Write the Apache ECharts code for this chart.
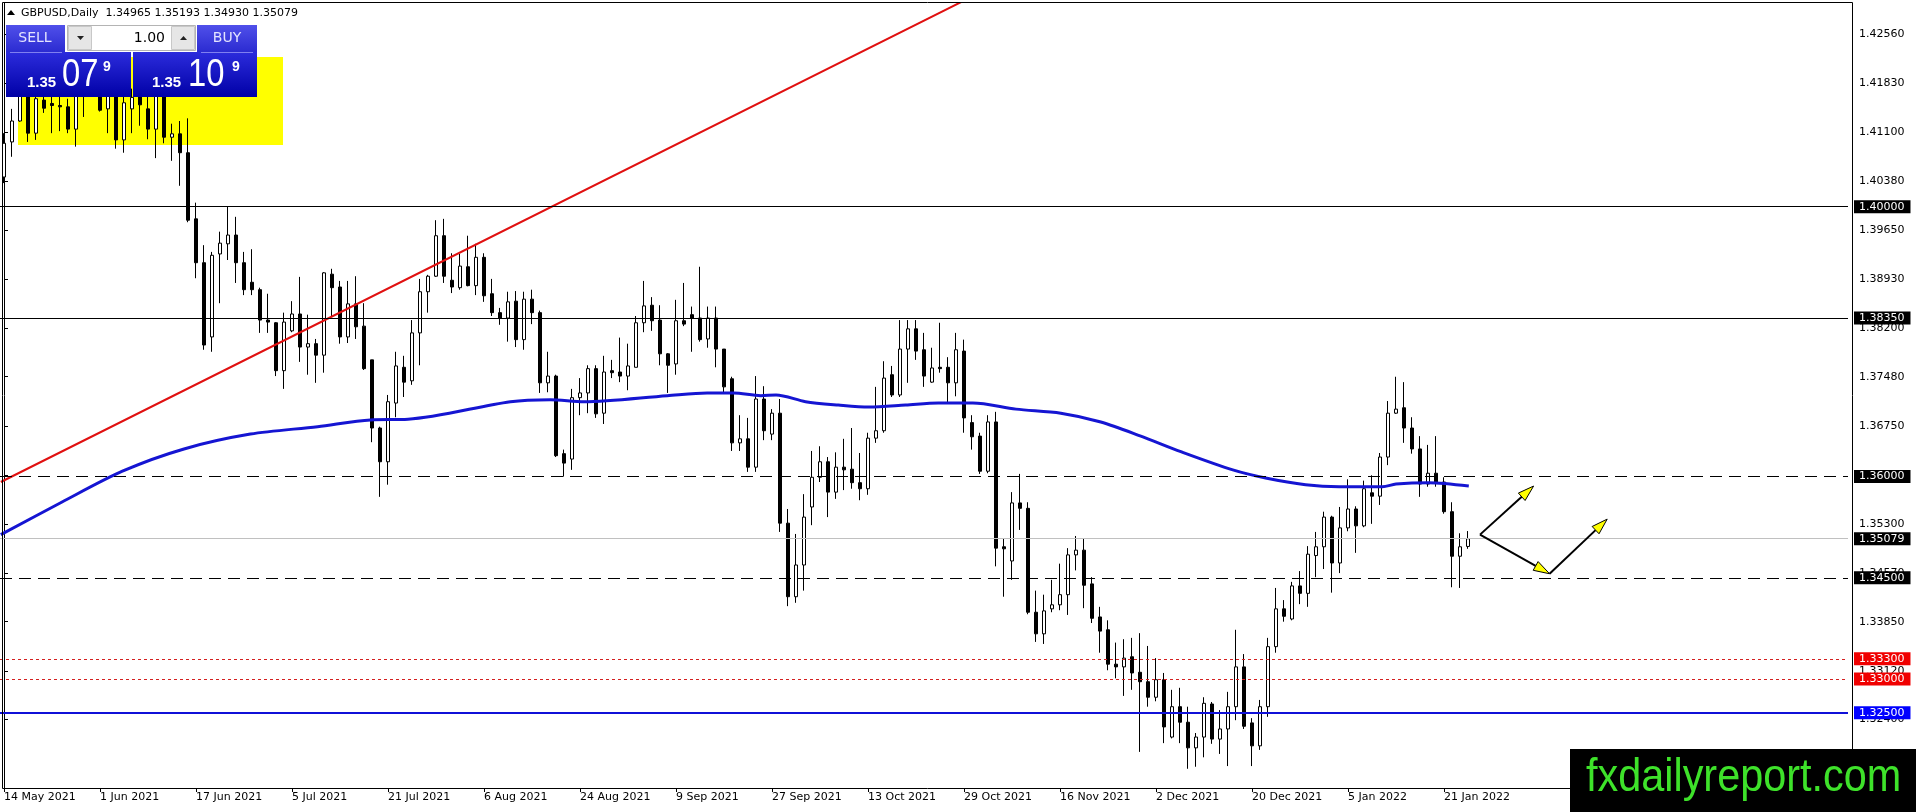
<!DOCTYPE html>
<html>
<head>
<meta charset="utf-8">
<script src="https://cdn.jsdelivr.net/npm/echarts@6.0.0/dist/echarts.min.js"></script>
<style>
  html, body { margin: 0; padding: 0; background: #fff; }
  #chart { width: 1916px; height: 812px; }
</style>
</head>
<body>
<div id="chart"></div>
<script>
// GBPUSD daily, 14 May 2021 .. 26 Jan 2022 (one slot per trading day)
const FONT = '"DejaVu Sans", sans-serif';
const ARIAL = '"Liberation Sans", Arial, sans-serif';
const BAR_COUNT = 231; // visible slots, incl. empty space on the right

const dateLabels = ['14 May 2021', '1 Jun 2021', '17 Jun 2021', '5 Jul 2021', '21 Jul 2021', '6 Aug 2021',
  '24 Aug 2021', '9 Sep 2021', '27 Sep 2021', '13 Oct 2021', '29 Oct 2021', '16 Nov 2021',
  '2 Dec 2021', '20 Dec 2021', '5 Jan 2022', '21 Jan 2022'];

const yTicks = [1.4256, 1.4183, 1.4110, 1.4038, 1.3965, 1.3893, 1.3820, 1.3748,
  1.3675, 1.3602, 1.3530, 1.3457, 1.3385, 1.3312, 1.3240];

const opens = [
  1.4044,1.4096,1.4127,1.4170,1.4109,1.4158,1.4153,1.4150,1.4148,1.4115,1.4165,1.4180,
  1.4195,1.4145,1.4168,1.4099,1.4145,1.4170,1.4145,1.4115,1.4168,1.4103,1.4108,1.4080,
  1.3982,1.3917,1.3807,1.3930,1.3945,1.3958,1.3917,1.3888,1.3877,1.3832,1.3828,1.3757,
  1.3816,1.3841,1.3792,1.3797,1.3780,1.3900,1.3881,1.3807,1.3856,1.3823,1.3773,1.3672,
  1.3622,1.3709,1.3762,1.3742,1.3813,1.3874,1.3897,1.3957,1.3891,1.3880,1.3911,1.3883,
  1.3925,1.3871,1.3843,1.3835,1.3860,1.3803,1.3863,1.3843,1.3739,1.3749,1.3634,1.3626,
  1.3717,1.3724,1.3760,1.3694,1.3757,1.3755,1.3749,1.3762,1.3828,1.3854,1.3832,1.3782,
  1.3767,1.3831,1.3840,1.3835,1.3804,1.3835,1.3789,1.3745,1.3650,1.3656,1.3614,1.3715,
  1.3663,1.3694,1.3531,1.3422,1.3469,1.3555,1.3599,1.3622,1.3577,1.3614,1.3611,1.3591,
  1.3582,1.3657,1.3668,1.3751,1.3721,1.3789,1.3819,1.3788,1.3740,1.3762,1.3762,1.3739,
  1.3786,1.3680,1.3660,1.3608,1.3681,1.3496,1.3475,1.3561,1.3553,1.3399,1.3367,1.3404,
  1.3410,1.3425,1.3484,1.3491,1.3441,1.3392,1.3373,1.3322,1.3318,1.3333,1.3310,1.3296,
  1.3273,1.3299,1.3214,1.3259,1.3236,1.3198,1.3214,1.3263,1.3211,1.3226,1.3259,1.3318,
  1.3235,1.3201,1.3259,1.3348,1.3404,1.3389,1.3438,1.3427,1.3483,1.3496,1.3540,1.3472,
  1.3524,1.3552,1.3527,1.3576,1.3571,1.3629,1.3694,1.3702,1.3672,1.3641,1.3589,1.3605,
  1.3592,1.3548,1.3482,1.34965
];
const highs = [
  1.4109,1.4145,1.4180,1.4185,1.4175,1.4170,1.4168,1.4165,1.4160,1.4180,1.4190,1.4215,
  1.4205,1.4185,1.4180,1.4170,1.4175,1.4185,1.4163,1.4180,1.4182,1.4123,1.4127,1.4131,
  1.4006,1.3943,1.3933,1.3963,1.4000,1.3985,1.3933,1.3937,1.3880,1.3871,1.3829,1.3843,
  1.3860,1.3896,1.3840,1.3804,1.3903,1.3908,1.3890,1.3890,1.3897,1.3857,1.3773,1.3674,
  1.3721,1.3785,1.3779,1.3832,1.3893,1.3899,1.3980,1.3982,1.3931,1.3930,1.3957,1.3945,
  1.3931,1.3893,1.3850,1.3874,1.3875,1.3874,1.3877,1.3846,1.3785,1.3751,1.3640,1.3730,
  1.3746,1.3765,1.3765,1.3779,1.3773,1.3806,1.3797,1.3838,1.3890,1.3866,1.3854,1.3783,
  1.3862,1.3887,1.3852,1.3911,1.3852,1.3852,1.3789,1.3748,1.3691,1.3687,1.3749,1.3734,
  1.3700,1.3715,1.3552,1.3515,1.3574,1.3638,1.3645,1.3629,1.3636,1.3656,1.3672,1.3635,
  1.3665,1.3733,1.3771,1.3764,1.3832,1.3832,1.3832,1.3813,1.3791,1.3828,1.3777,1.3813,
  1.3803,1.3691,1.3665,1.3691,1.3696,1.3509,1.3577,1.3604,1.3562,1.3431,1.3425,1.3447,
  1.3471,1.3494,1.3512,1.3508,1.3451,1.3407,1.3387,1.3354,1.3359,1.3361,1.3368,1.3349,
  1.3331,1.3309,1.3284,1.3287,1.3259,1.3220,1.3273,1.3266,1.3254,1.3281,1.3373,1.3337,
  1.3242,1.3269,1.3361,1.3435,1.3417,1.3444,1.3460,1.3497,1.3518,1.3548,1.3542,1.3555,
  1.3596,1.3556,1.3594,1.3602,1.3635,1.3712,1.3748,1.3740,1.3688,1.3660,1.3647,1.3660,
  1.3599,1.3562,1.3516,1.35193
];
const lows = [
  1.4035,1.4074,1.4126,1.4096,1.4099,1.4139,1.4109,1.4112,1.4109,1.4089,1.4133,1.4170,
  1.4141,1.4109,1.4086,1.4080,1.4109,1.4120,1.4100,1.4072,1.4094,1.4068,1.4031,1.3977,
  1.3894,1.3788,1.3785,1.3857,1.3921,1.3887,1.3869,1.3869,1.3813,1.3813,1.3749,1.3730,
  1.3814,1.3770,1.3751,1.3739,1.3754,1.3837,1.3797,1.3798,1.3804,1.3758,1.3651,1.3570,
  1.3588,1.3688,1.3718,1.3736,1.3765,1.3843,1.3896,1.3887,1.3872,1.3877,1.3882,1.3869,
  1.3859,1.3838,1.3825,1.3800,1.3792,1.3788,1.3826,1.3724,1.3725,1.3629,1.3600,1.3610,
  1.3691,1.3694,1.3687,1.3678,1.3746,1.3740,1.3728,1.3762,1.3814,1.3816,1.3765,1.3724,
  1.3751,1.3823,1.3785,1.3800,1.3791,1.3762,1.3725,1.3638,1.3638,1.3607,1.3607,1.3654,
  1.3654,1.3518,1.3408,1.3413,1.3431,1.3528,1.3592,1.3540,1.3567,1.3580,1.3582,1.3565,
  1.3573,1.3650,1.3665,1.3718,1.3718,1.3739,1.3773,1.3733,1.3739,1.3754,1.3709,1.3719,
  1.3665,1.3640,1.3604,1.3605,1.3467,1.3422,1.3447,1.3521,1.3396,1.3355,1.3352,1.3399,
  1.3402,1.3395,1.3461,1.3405,1.3383,1.3339,1.3313,1.3301,1.3275,1.3284,1.3192,1.3259,
  1.3267,1.3205,1.3212,1.3205,1.3167,1.3170,1.3184,1.3204,1.3189,1.3171,1.3239,1.3226,
  1.3171,1.3195,1.3244,1.3339,1.3385,1.3387,1.3411,1.3407,1.3451,1.3463,1.3428,1.3457,
  1.3519,1.3487,1.3525,1.3530,1.3558,1.3617,1.3693,1.3650,1.3634,1.3570,1.3585,1.3585,
  1.3545,1.3436,1.3435,1.34930
];
const closes = [
  1.4094,1.4127,1.4165,1.4109,1.4160,1.4146,1.4150,1.4148,1.4115,1.4165,1.4178,1.4200,
  1.4143,1.4170,1.4099,1.4154,1.4162,1.4151,1.4115,1.4168,1.4103,1.4108,1.4080,1.3980,
  1.3917,1.3795,1.3928,1.3946,1.3958,1.3917,1.3877,1.3877,1.3832,1.3829,1.3757,1.3829,
  1.3841,1.3792,1.3797,1.3780,1.3902,1.3880,1.3807,1.3856,1.3822,1.3760,1.3672,1.3622,
  1.3711,1.3764,1.3740,1.3813,1.3874,1.3897,1.3957,1.3897,1.3881,1.3912,1.3883,1.3925,
  1.3868,1.3843,1.3835,1.3859,1.3803,1.3863,1.3843,1.3739,1.3749,1.3631,1.3620,1.3717,
  1.3724,1.3760,1.3693,1.3755,1.3754,1.3749,1.3764,1.3828,1.3853,1.3831,1.3782,1.3765,
  1.3831,1.3826,1.3835,1.3803,1.3835,1.3789,1.3733,1.3650,1.3656,1.3614,1.3715,1.3668,
  1.3694,1.3531,1.3422,1.3469,1.3540,1.3599,1.3622,1.3577,1.3614,1.3610,1.3591,1.3582,
  1.3657,1.3668,1.3746,1.3721,1.3789,1.3819,1.3786,1.3749,1.3761,1.3760,1.3739,1.3788,
  1.3687,1.3659,1.3608,1.3681,1.3494,1.3493,1.3561,1.3553,1.3399,1.3367,1.3401,1.3410,
  1.3425,1.3484,1.3491,1.3439,1.3390,1.3371,1.3322,1.3318,1.3331,1.3309,1.3296,1.3273,
  1.3299,1.3229,1.3259,1.3236,1.3198,1.3214,1.3264,1.3211,1.3226,1.3259,1.3318,1.3230,
  1.3201,1.3259,1.3348,1.3404,1.3393,1.3438,1.3427,1.3485,1.3496,1.3540,1.3472,1.3524,
  1.3552,1.3527,1.3582,1.3571,1.3629,1.3694,1.3700,1.3672,1.3641,1.3589,1.3605,1.3592,
  1.3548,1.3482,1.3496,1.35079
];

// moving average as [bar, price]
const maPoints = [
  [-0.4,1.3514],[7.2,1.3562],[14.8,1.3608],[22.5,1.3641],[30.8,1.3663],[39.2,1.3674],
  [45.8,1.3684],[50.5,1.3685],[63.3,1.3711],[68.3,1.3714],[72.5,1.3711],[82.9,1.3720],
  [87.9,1.3724],[91.2,1.3724],[94.6,1.3720],[96.5,1.3721],[100.2,1.3711],[104.3,1.3706],
  [108.1,1.3703],[112.7,1.3706],[116.8,1.3709],[121.1,1.3709],[126.5,1.3700],[132.1,1.3694],
  [137.1,1.3681],[142.1,1.3660],[147.1,1.3637],[153.6,1.3610],[157.7,1.3598],[162.7,1.3588],
  [166.9,1.3585],[172.3,1.3585],[174.0,1.3589],[178.1,1.3591],[183.1,1.3586]
];

// red trend line
const trendLine = [[-0.4, 1.3592], [120.1, 1.4306]];

// horizontal levels
const levels = [1.40000, 1.38350, 1.36000, 1.35079, 1.34500, 1.33300, 1.33000, 1.32500];

// projection arrows [from, to] in [bar, price]
const arrowPaths = [
  [[184.5, 1.3514], [191.2, 1.3586]],
  [[184.5, 1.3514], [193.2, 1.3456]],
  [[193.2, 1.3456], [200.4, 1.3537]]
];

const categories = [];
for (let i = 0; i < BAR_COUNT; i++) categories.push(String(i));

const candleData = opens.map((o, i) => [o, closes[i], lows[i], highs[i]]);

const levelStyle = {
  1.40000: { line: { color: '#000', width: 1, type: 'solid' }, bg: '#000' },
  1.38350: { line: { color: '#000', width: 1, type: 'solid' }, bg: '#000' },
  1.36000: { line: { color: '#000', width: 1, type: [12, 7] }, bg: '#000' },
  1.35079: { line: { color: '#c0c0c0', width: 1, type: 'solid' }, bg: '#000' },
  1.34500: { line: { color: '#000', width: 1, type: [12, 7] }, bg: '#000' },
  1.33300: { line: { color: '#d42020', width: 1, type: [3, 3] }, bg: '#f00000' },
  1.33000: { line: { color: '#d42020', width: 1, type: [3, 3] }, bg: '#f00000' },
  1.32500: { line: { color: '#1010d8', width: 2, type: 'solid' }, bg: '#0000ff' }
};

const labelInterval = (index) => index % 12 === 0 && index / 12 < dateLabels.length;

const chart = echarts.init(document.getElementById('chart'));

const option = {
  animation: false,
  backgroundColor: '#fff',
  grid: { left: 0, top: 3, width: BAR_COUNT * 8, height: 785 },
  xAxis: [{
    type: 'category',
    data: categories,
    boundaryGap: true,
    axisLine: { show: false },
    axisTick: { show: true, alignWithLabel: true, interval: labelInterval, length: 4, lineStyle: { color: '#000' } },
    axisLabel: {
      interval: labelInterval,
      formatter: (v, i) => dateLabels[i / 12],
      align: 'left',
      margin: 4,
      color: '#000',
      fontFamily: FONT,
      fontSize: 11
    },
    splitLine: { show: false }
  }, {
    type: 'value',
    min: -0.5,
    max: BAR_COUNT - 0.5,
    show: false
  }],
  yAxis: {
    type: 'value',
    position: 'right',
    offset: 4,
    min: 1.31385,
    max: 1.43019,
    axisLine: { show: true, lineStyle: { color: '#000', width: 1 } },
    axisTick: { show: true, length: 4, customValues: yTicks, lineStyle: { color: '#000' } },
    axisLabel: {
      customValues: yTicks,
      formatter: v => v.toFixed(5),
      color: '#000',
      fontFamily: FONT,
      fontSize: 11,
      margin: 7
    },
    splitLine: { show: false }
  },
  series: [
    {
      type: 'candlestick',
      data: candleData,
      barWidth: 4,
      itemStyle: {
        color: '#ffffff',
        color0: '#000000',
        borderColor: '#000000',
        borderColor0: '#000000',
        borderWidth: 1
      },
      markLine: {
        silent: true,
        symbol: 'none',
        precision: 5,
        animation: false,
        data: levels.map(v => ({
          yAxis: v,
          lineStyle: levelStyle[v].line,
          label: {
            show: true,
            position: 'end',
            distance: 6,
            formatter: () => v.toFixed(5),
            color: '#fff',
            backgroundColor: levelStyle[v].bg,
            padding: [1, 6, 1, 5],
            fontFamily: FONT,
            fontSize: 11
          }
        }))
      }
    },
    {
      type: 'line',
      xAxisIndex: 1,
      data: maPoints,
      smooth: 0.3,
      symbol: 'none',
      lineStyle: { color: '#1515d2', width: 3 },
      z: 3
    },
    {
      type: 'line',
      xAxisIndex: 1,
      data: trendLine,
      symbol: 'none',
      lineStyle: { color: '#e01010', width: 2 },
      z: 3
    }
  ]
};

chart.setOption(option);

// overlay graphics
const px = p => chart.convertToPixel({ xAxisIndex: 1, yAxisIndex: 0 }, p);
const graphics = [];

// chart frame
graphics.push({ type: 'rect', z: 50, shape: { x: 2.5, y: 2.5, width: 1850, height: 786 },
  style: { fill: 'none', stroke: '#000', lineWidth: 1 } });

// yellow box behind the early candles
graphics.push({ type: 'rect', z: 0, shape: { x: 18, y: 57, width: 265, height: 88 },
  style: { fill: '#ffff00' } });

// arrows
arrowPaths.forEach(([a, b]) => {
  const s = px(a), t = px(b);
  const dx = t[0] - s[0], dy = t[1] - s[1];
  const len = Math.sqrt(dx * dx + dy * dy);
  const ux = dx / len, uy = dy / len;
  const bx = t[0] - ux * 16, by = t[1] - uy * 16;
  graphics.push({ type: 'line', z: 60, shape: { x1: s[0], y1: s[1], x2: bx, y2: by },
    style: { stroke: '#000', lineWidth: 2 } });
  graphics.push({ type: 'polygon', z: 61,
    shape: { points: [t, [bx - uy * 5, by + ux * 5], [bx + uy * 5, by - ux * 5]] },
    style: { fill: '#ffff00', stroke: '#000', lineWidth: 1 } });
});

// header
graphics.push({ type: 'polygon', z: 70, shape: { points: [[7, 15], [15, 15], [11, 10]] }, style: { fill: '#000' } });
graphics.push({ type: 'text', z: 70, x: 21, y: 13,
  style: { text: 'GBPUSD,Daily  1.34965 1.35193 1.34930 1.35079', fill: '#000', font: '11px ' + FONT, verticalAlign: 'middle' } });

// one-click trading panel
const btnGrad = () => new echarts.graphic.LinearGradient(0, 0, 0, 1, [
  { offset: 0, color: '#5050ea' }, { offset: 1, color: '#2a2ad0' }]);
const priceGrad = () => new echarts.graphic.LinearGradient(0, 0, 0, 1, [
  { offset: 0, color: '#2c2cdc' }, { offset: 1, color: '#0000a6' }]);
graphics.push({ type: 'rect', z: 80, shape: { x: 6, y: 25, width: 59, height: 28 }, style: { fill: btnGrad() } });
graphics.push({ type: 'rect', z: 80, shape: { x: 197, y: 25, width: 60, height: 28 }, style: { fill: btnGrad() } });
graphics.push({ type: 'rect', z: 80, shape: { x: 6, y: 52, width: 125, height: 45 }, style: { fill: priceGrad() } });
graphics.push({ type: 'rect', z: 80, shape: { x: 133, y: 52, width: 124, height: 45 }, style: { fill: priceGrad() } });
graphics.push({ type: 'line', z: 81, shape: { x1: 10, y1: 52.5, x2: 62, y2: 52.5 }, style: { stroke: '#8080f0', lineWidth: 1 } });
graphics.push({ type: 'line', z: 81, shape: { x1: 201, y1: 52.5, x2: 253, y2: 52.5 }, style: { stroke: '#8080f0', lineWidth: 1 } });
graphics.push({ type: 'text', z: 82, x: 35, y: 38, style: { text: 'SELL', fill: '#e4e4ff', font: '14px ' + FONT, align: 'center', verticalAlign: 'middle' } });
graphics.push({ type: 'text', z: 82, x: 227, y: 38, style: { text: 'BUY', fill: '#e4e4ff', font: '14px ' + FONT, align: 'center', verticalAlign: 'middle' } });

// lot spinner
graphics.push({ type: 'rect', z: 80, shape: { x: 67.5, y: 25.5, width: 128, height: 25 }, style: { fill: '#ffffff', stroke: '#b4b4b4' } });
graphics.push({ type: 'rect', z: 81, shape: { x: 68.5, y: 26.5, width: 23, height: 23 }, style: { fill: '#e6e6e6', stroke: '#c8c8c8' } });
graphics.push({ type: 'rect', z: 81, shape: { x: 171.5, y: 26.5, width: 23, height: 23 }, style: { fill: '#e6e6e6', stroke: '#c8c8c8' } });
graphics.push({ type: 'polygon', z: 82, shape: { points: [[77, 36], [84, 36], [80.5, 40]] }, style: { fill: '#222' } });
graphics.push({ type: 'polygon', z: 82, shape: { points: [[180, 40], [187, 40], [183.5, 36]] }, style: { fill: '#222' } });
graphics.push({ type: 'text', z: 82, x: 165, y: 38, style: { text: '1.00', fill: '#000', font: '14px ' + FONT, align: 'right', verticalAlign: 'middle' } });

// prices in the panel
[[27, 62, 103, '07'], [152, 188, 232, '10']].forEach(([x1, x2, x3, big]) => {
  graphics.push({ type: 'text', z: 82, x: x1, y: 83, style: { text: '1.35', fill: '#fff', font: 'bold 15px ' + ARIAL, verticalAlign: 'middle' } });
  graphics.push({ type: 'text', z: 82, x: x2, y: 75, scaleX: 0.84,
    style: { text: big, fill: '#fff', font: '39px ' + ARIAL, verticalAlign: 'middle' } });
  graphics.push({ type: 'text', z: 82, x: x3, y: 67, style: { text: '9', fill: '#fff', font: 'bold 14px ' + ARIAL, verticalAlign: 'middle' } });
});

// watermark
graphics.push({ type: 'rect', z: 90, shape: { x: 1570, y: 749, width: 346, height: 63 }, style: { fill: '#000' } });
graphics.push({ type: 'text', z: 91, x: 1586, y: 778, scaleX: 0.9,
  style: { text: 'fxdailyreport.com', fill: '#3ee22a', font: '46px ' + ARIAL, verticalAlign: 'middle' } });

chart.setOption({ graphic: graphics });
</script>
</body>
</html>
